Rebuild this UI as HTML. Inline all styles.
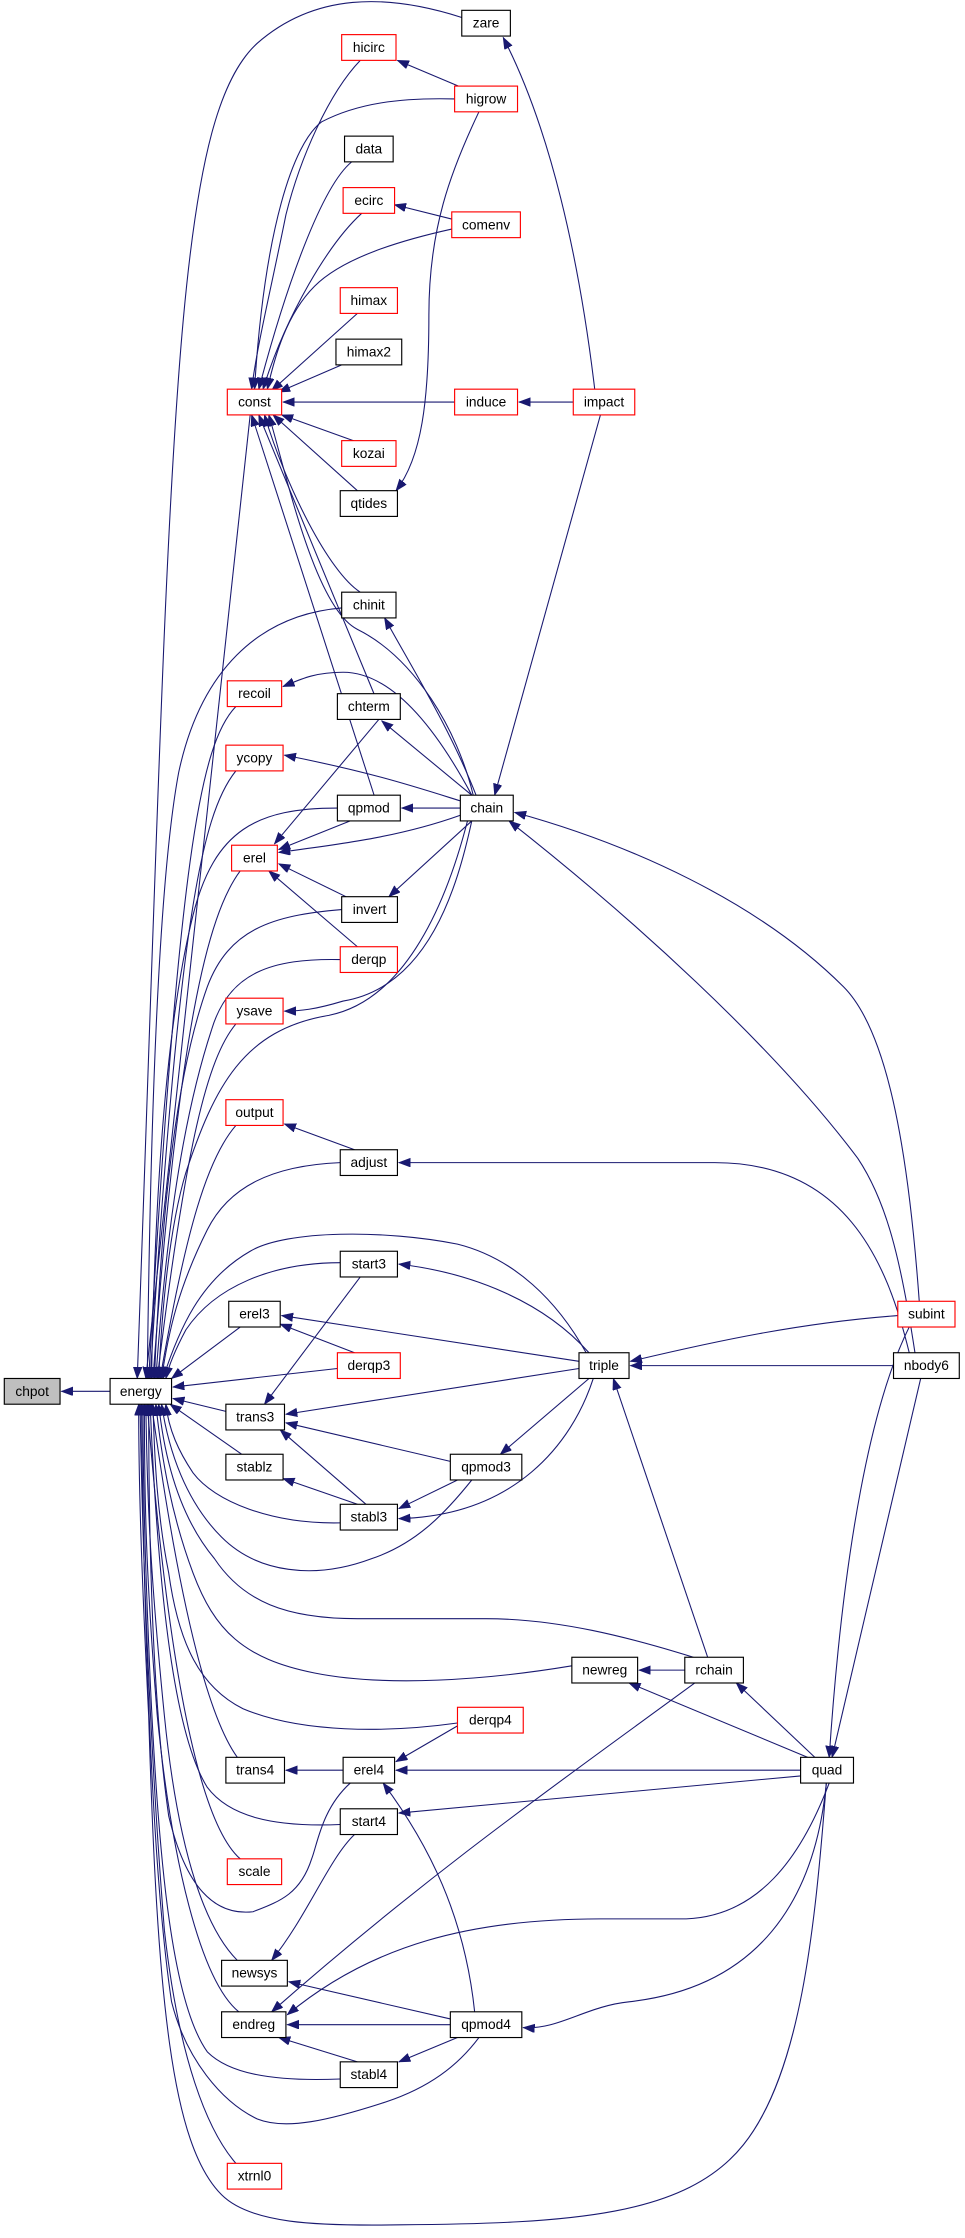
<!DOCTYPE html>
<html><head><meta charset="utf-8"><style>
html,body{margin:0;padding:0;background:#fff;}
svg{display:block;}
text{font-family:"Liberation Sans",sans-serif;font-size:9.6px;text-anchor:middle;dominant-baseline:central;fill:#000;}
.b{fill:#fff;stroke:#000;stroke-width:0.8;}
.r{fill:#fff;stroke:#f00;stroke-width:0.8;}
.g{fill:#bfbfbf;stroke:#000;stroke-width:0.8;}
path.e{fill:none;stroke:#191970;stroke-width:0.75;marker-end:url(#a);}
</style></head><body>
<svg width="965" height="2238" viewBox="0 0 675 1565" xmlns="http://www.w3.org/2000/svg">
<defs><marker id="a" markerUnits="userSpaceOnUse" markerWidth="9" markerHeight="7" refX="8" refY="3" orient="auto"><path d="M0,0 L8,3 L0,6 z" fill="#191970" stroke="#191970" stroke-width="0.5"/></marker></defs>
<g>
<path class="e" d="M77,973 L43,973"/>
<path class="e" d="M323,12 C270,-5 220,-5 180,30 C120,85 120,300 96,964"/>
<path class="e" d="M175,290 L102,964"/>
<path class="e" d="M239,425 C180,430 140,470 125,540 C110,620 105,800 103,964"/>
<path class="e" d="M165,494 C140,520 125,600 104,964"/>
<path class="e" d="M165,539 C140,570 125,650 105,964"/>
<path class="e" d="M236,565 C180,565 150,580 135,640 C115,720 108,850 106,964"/>
<path class="e" d="M168,609 C145,640 125,720 107,964"/>
<path class="e" d="M239,636 C190,640 160,650 145,690 C120,760 112,870 108,964"/>
<path class="e" d="M238,671 C190,670 160,680 148,720 C125,790 115,880 109,964"/>
<path class="e" d="M165,716 C145,740 130,800 110,964"/>
<path class="e" d="M327,574 C310,640 280,700 230,710 C170,720 150,760 130,820 C118,860 113,920 111,964"/>
<path class="e" d="M165,787 C145,810 130,860 112,964"/>
<path class="e" d="M238,813 C190,815 160,830 145,860 C125,900 118,930 113,964"/>
<path class="e" d="M410,946 C390,910 360,880 320,870 C270,860 200,860 175,875 C140,895 125,930 114,964"/>
<path class="e" d="M238,883 C190,883 150,900 130,930 C122,945 118,955 116,964"/>
<path class="e" d="M168,928 L120,964"/>
<path class="e" d="M236,957 L121,970"/>
<path class="e" d="M158,987 L121,978"/>
<path class="e" d="M169,1017 L119,982"/>
<path class="e" d="M238,1065 C190,1066 150,1050 135,1030 C125,1015 118,1000 116,982"/>
<path class="e" d="M330,1035 C310,1060 290,1080 260,1090 C220,1105 180,1100 155,1075 C130,1050 118,1015 113,982"/>
<path class="e" d="M485,1159 C440,1145 390,1132 340,1132 L250,1132 C200,1132 170,1120 150,1090 C125,1060 115,1020 111,982"/>
<path class="e" d="M400,1165 C340,1175 270,1180 220,1170 C170,1160 150,1140 135,1100 C120,1060 113,1020 109,982"/>
<path class="e" d="M320,1205 C270,1212 210,1212 170,1195 C140,1180 125,1150 118,1100 C110,1060 108,1020 107,982"/>
<path class="e" d="M166,1229 C145,1200 125,1120 106,982"/>
<path class="e" d="M238,1276 C190,1278 160,1270 145,1250 C120,1210 110,1100 105,982"/>
<path class="e" d="M245,1247 C225,1265 222,1290 218,1300 C210,1325 195,1330 177,1337 C150,1340 130,1320 118,1270 C108,1200 104,1100 104,982"/>
<path class="e" d="M168,1300 C145,1280 120,1200 103,982"/>
<path class="e" d="M166,1371 C145,1350 125,1300 115,1200 C105,1100 103,1050 102,982"/>
<path class="e" d="M167,1407 C140,1385 120,1300 110,1200 C102,1100 101,1050 101,982"/>
<path class="e" d="M238,1454 C190,1456 160,1450 145,1435 C120,1400 110,1300 104,1150 C101,1080 100,1030 100,982"/>
<path class="e" d="M335,1425 C320,1445 300,1460 270,1470 C230,1483 200,1490 180,1482 C155,1470 130,1440 120,1400 C105,1300 100,1100 99,982"/>
<path class="e" d="M165,1513 C145,1490 125,1440 115,1350 C103,1200 99,1050 98,982"/>
<path class="e" d="M578,1247 C570,1350 560,1450 520,1500 C480,1550 400,1555 280,1556 C220,1557 175,1555 155,1535 C120,1500 110,1400 104,1200 C99,1100 97,1040 97,982"/>
<!-- const -->
<path class="e" d="M252,42 C230,65 210,110 200,150 C190,200 180,240 176,272"/>
<path class="e" d="M318,69 C280,68 250,72 225,85 C205,100 185,160 178,272"/>
<path class="e" d="M246,113 C225,130 200,200 181,272"/>
<path class="e" d="M253,149 C230,170 200,220 184,272"/>
<path class="e" d="M316,160 C280,168 240,180 220,200 C200,220 192,250 187,272"/>
<path class="e" d="M250,219 L190,273"/>
<path class="e" d="M239,255 L195,274"/>
<path class="e" d="M318,281 L198,281"/>
<path class="e" d="M250,309 L197,290"/>
<path class="e" d="M250,343 L191,290"/>
<path class="e" d="M252,414 C230,400 200,340 185,290"/>
<path class="e" d="M262,486 L181,290"/>
<path class="e" d="M262,557 L176,290"/>
<path class="e" d="M331,556 C320,510 290,460 250,440 C220,425 200,330 188,290"/>
<!-- top -->
<path class="e" d="M323,61 L278,42"/>
<path class="e" d="M316,153 L276,143"/>
<path class="e" d="M335,78 C315,120 300,160 300,220 C300,280 295,320 277,343"/>
<path class="e" d="M401,281 L363,281"/>
<path class="e" d="M416,272 C405,180 385,90 352,26"/>
<path class="e" d="M420,290 L346,556"/>
<!-- chain -->
<path class="e" d="M333,556 C315,510 290,470 269,432"/>
<path class="e" d="M330,556 C300,500 270,470 240,470 C220,470 210,475 198,480"/>
<path class="e" d="M330,556 L267,504"/>
<path class="e" d="M322,560 C290,550 260,540 199,528"/>
<path class="e" d="M322,565 L281,565"/>
<path class="e" d="M322,570 C280,585 240,590 195,596"/>
<path class="e" d="M330,574 L272,627"/>
<path class="e" d="M330,574 C320,620 300,690 240,700 C220,706 210,707 199,707"/>
<path class="e" d="M265,503 L192,590"/>
<path class="e" d="M245,574 L195,594"/>
<path class="e" d="M242,627 L195,604"/>
<path class="e" d="M250,662 L188,609"/>
<path class="e" d="M248,804 L199,786"/>
<path class="e" d="M636,946 C620,880 590,813 500,813 L279,813"/>
<path class="e" d="M643,910 C635,800 620,720 590,690 C530,630 440,590 360,568"/>
<path class="e" d="M640,946 C630,880 620,840 600,810 C540,730 440,640 356,574"/>
<!-- triple region -->
<path class="e" d="M412,946 C380,910 330,890 279,884"/>
<path class="e" d="M405,952 L197,920"/>
<path class="e" d="M248,946 L196,926"/>
<path class="e" d="M252,893 L185,982"/>
<path class="e" d="M405,957 L200,989"/>
<path class="e" d="M315,1022 L200,995"/>
<path class="e" d="M256,1052 L196,1000"/>
<path class="e" d="M250,1052 L198,1034"/>
<path class="e" d="M320,1035 L279,1055"/>
<path class="e" d="M415,964 C400,1010 360,1060 279,1062"/>
<path class="e" d="M412,964 L350,1017"/>
<path class="e" d="M628,920 C560,925 500,938 441,952"/>
<path class="e" d="M625,955 L441,955"/>
<path class="e" d="M495,1159 L429,964"/>
<path class="e" d="M636,928 C610,980 590,1080 580,1229"/>
<path class="e" d="M644,964 L582,1229"/>
<path class="e" d="M479,1168 L447,1168"/>
<path class="e" d="M565,1229 L440,1177"/>
<path class="e" d="M570,1229 L515,1177"/>
<path class="e" d="M560,1238 L277,1238"/>
<path class="e" d="M240,1238 L200,1238"/>
<path class="e" d="M320,1207 L277,1232"/>
<path class="e" d="M560,1242 L279,1268"/>
<path class="e" d="M248,1283 C230,1300 215,1340 190,1371"/>
<path class="e" d="M486,1177 C400,1240 300,1310 190,1407"/>
<path class="e" d="M580,1247 C560,1300 530,1340 480,1342 L420,1342 C330,1342 260,1360 201,1409"/>
<path class="e" d="M315,1412 L202,1386"/>
<path class="e" d="M315,1416 L201,1416"/>
<path class="e" d="M332,1407 C325,1340 300,1290 268,1247"/>
<path class="e" d="M320,1425 L279,1442"/>
<path class="e" d="M250,1442 L195,1425"/>
<path class="e" d="M578,1247 C570,1330 530,1390 440,1400 C410,1403 390,1420 366,1418"/>
</g>
<g>
<rect class="g" x="3" y="964" width="39" height="18"/><text x="22.5" y="973">chpot</text>
<rect class="b" x="77" y="964" width="43" height="18"/><text x="98.5" y="973">energy</text>
<rect class="r" x="159" y="272" width="38" height="18"/><text x="178" y="281">const</text>
<rect class="r" x="159" y="476" width="38" height="18"/><text x="178" y="485">recoil</text>
<rect class="r" x="158" y="521" width="40" height="18"/><text x="178" y="530">ycopy</text>
<rect class="r" x="162" y="591" width="32" height="18"/><text x="178" y="600">erel</text>
<rect class="r" x="158" y="698" width="40" height="18"/><text x="178" y="707">ysave</text>
<rect class="r" x="158" y="769" width="40" height="18"/><text x="178" y="778">output</text>
<rect class="b" x="160" y="910" width="36" height="18"/><text x="178" y="919">erel3</text>
<rect class="b" x="158" y="982" width="41" height="18"/><text x="178.5" y="991">trans3</text>
<rect class="b" x="158" y="1017" width="40" height="18"/><text x="178" y="1026">stablz</text>
<rect class="b" x="158" y="1229" width="41" height="18"/><text x="178.5" y="1238">trans4</text>
<rect class="r" x="159" y="1300" width="38" height="18"/><text x="178" y="1309">scale</text>
<rect class="b" x="155" y="1371" width="46" height="18"/><text x="178" y="1380">newsys</text>
<rect class="b" x="155" y="1407" width="45" height="18"/><text x="177.5" y="1416">endreg</text>
<rect class="r" x="159" y="1513" width="38" height="18"/><text x="178" y="1522">xtrnl0</text>

<rect class="r" x="239" y="24" width="38" height="18"/><text x="258" y="33">hicirc</text>
<rect class="b" x="241" y="95" width="34" height="18"/><text x="258" y="104">data</text>
<rect class="r" x="240" y="131" width="36" height="18"/><text x="258" y="140">ecirc</text>
<rect class="r" x="238" y="201" width="40" height="18"/><text x="258" y="210">himax</text>
<rect class="b" x="235" y="237" width="46" height="18"/><text x="258" y="246">himax2</text>
<rect class="r" x="239" y="308" width="38" height="18"/><text x="258" y="317">kozai</text>
<rect class="b" x="238" y="343" width="40" height="18"/><text x="258" y="352">qtides</text>
<rect class="b" x="239" y="414" width="38" height="18"/><text x="258" y="423">chinit</text>
<rect class="b" x="236" y="485" width="44" height="18"/><text x="258" y="494">chterm</text>
<rect class="b" x="236" y="556" width="44" height="18"/><text x="258" y="565">qpmod</text>
<rect class="b" x="239" y="627" width="39" height="18"/><text x="258.5" y="636">invert</text>
<rect class="r" x="238" y="662" width="40" height="18"/><text x="258" y="671">derqp</text>
<rect class="b" x="238" y="804" width="40" height="18"/><text x="258" y="813">adjust</text>
<rect class="b" x="238" y="875" width="40" height="18"/><text x="258" y="884">start3</text>
<rect class="r" x="236" y="946" width="44" height="18"/><text x="258" y="955">derqp3</text>
<rect class="b" x="238" y="1052" width="40" height="18"/><text x="258" y="1061">stabl3</text>
<rect class="b" x="240" y="1229" width="36" height="18"/><text x="258" y="1238">erel4</text>
<rect class="b" x="238" y="1265" width="40" height="18"/><text x="258" y="1274">start4</text>
<rect class="b" x="238" y="1442" width="40" height="18"/><text x="258" y="1451">stabl4</text>

<rect class="b" x="323" y="7" width="34" height="18"/><text x="340" y="16">zare</text>
<rect class="r" x="318" y="60" width="44" height="18"/><text x="340" y="69">higrow</text>
<rect class="r" x="316" y="148" width="48" height="18"/><text x="340" y="157">comenv</text>
<rect class="r" x="318" y="272" width="44" height="18"/><text x="340" y="281">induce</text>
<rect class="b" x="322" y="556" width="37" height="18"/><text x="340.5" y="565">chain</text>
<rect class="b" x="315" y="1017" width="50" height="18"/><text x="340" y="1026">qpmod3</text>
<rect class="r" x="320" y="1194" width="46" height="18"/><text x="343" y="1203">derqp4</text>
<rect class="b" x="315" y="1407" width="50" height="18"/><text x="340" y="1416">qpmod4</text>

<rect class="b" x="400" y="1159" width="46" height="18"/><text x="423" y="1168">newreg</text>
<rect class="r" x="401" y="272" width="43" height="18"/><text x="422.5" y="281">impact</text>
<rect class="b" x="405" y="946" width="35" height="18"/><text x="422.5" y="955">triple</text>
<rect class="b" x="479" y="1159" width="41" height="18"/><text x="499.5" y="1168">rchain</text>
<rect class="b" x="560" y="1229" width="37" height="18"/><text x="578.5" y="1238">quad</text>
<rect class="r" x="628" y="910" width="40" height="18"/><text x="648" y="919">subint</text>
<rect class="b" x="625" y="946" width="46" height="18"/><text x="648" y="955">nbody6</text>
</g>
</svg>
</body></html>
